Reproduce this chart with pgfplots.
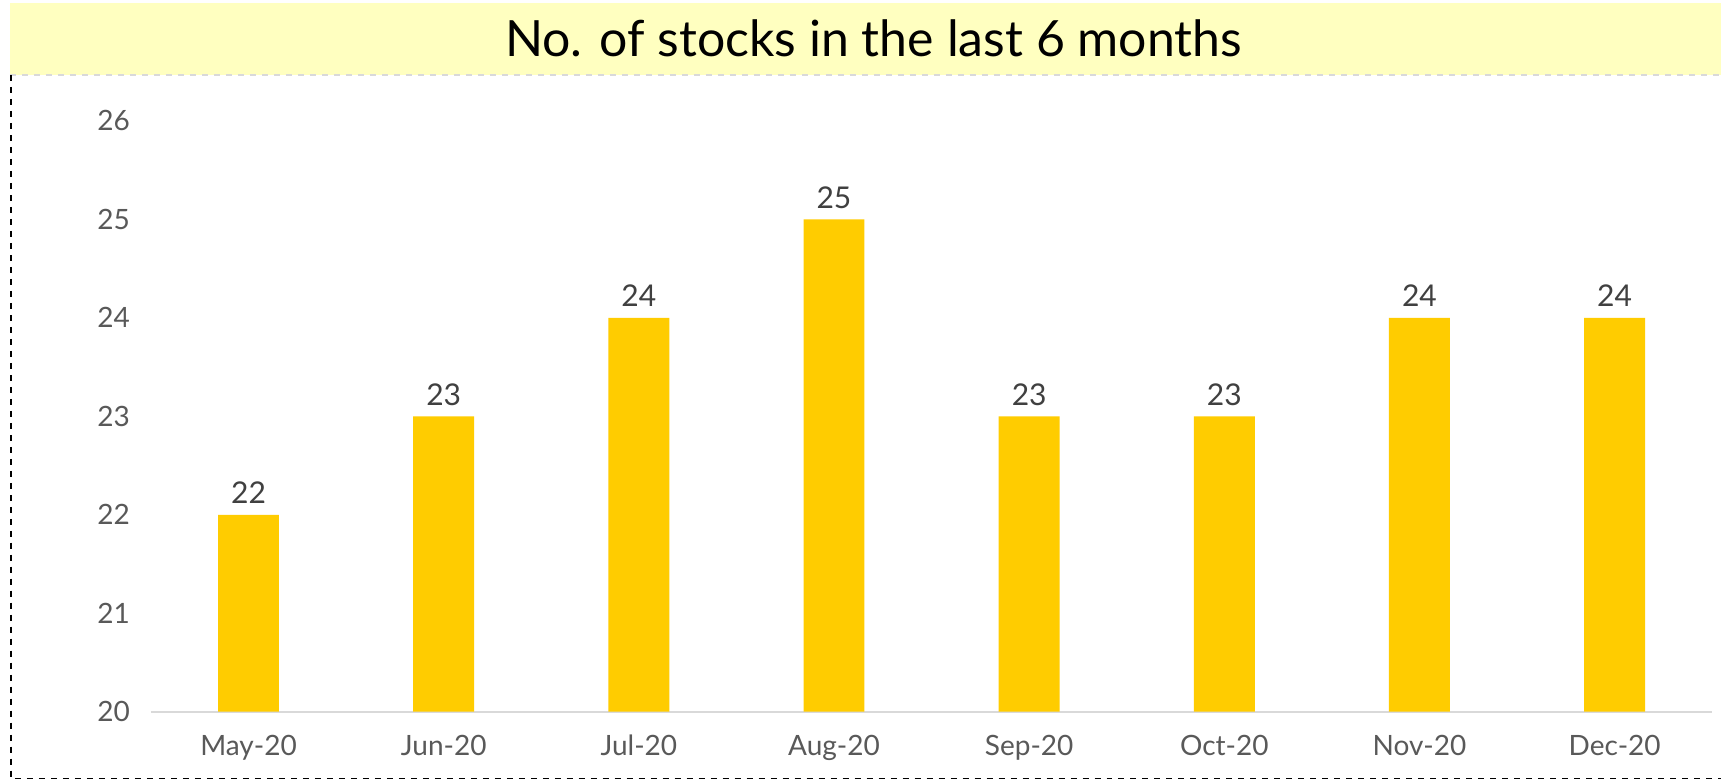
\documentclass[border=0pt]{standalone}
\usepackage{pgfplots}
\pgfplotsset{compat=1.18}
\usepackage{fontspec}
\setmainfont{Lato}
\definecolor{barc}{HTML}{FFCC00}
\definecolor{band}{HTML}{FFFFC0}
\definecolor{tickc}{HTML}{595959}
\definecolor{labc}{HTML}{404040}
\definecolor{axc}{HTML}{D9D9D9}
\begin{document}
\begin{tikzpicture}
% page frame, 1px = 0.5pt
\fill[white] (0,0) rectangle (861pt,-390pt);
\fill[band] (5pt,-1.5pt) rectangle (861pt,-37.5pt);
\draw[axc, dashed, line width=0.8pt] (5pt,-37.5pt) -- (861pt,-37.5pt);
\draw[black, dashed, line width=0.6pt] (5.5pt,-37.5pt) -- (5.5pt,-389.5pt) -- (861pt,-389.5pt);
\node[font=\fontsize{25}{28}\selectfont, text=black] at (437pt,-19pt) {No. of stocks in the last 6 months};
\begin{axis}[
  at={(75.5pt,-356pt)}, anchor=south west,
  scale only axis, width=781pt, height=295.5pt,
  xmin=-0.5, xmax=7.5, ymin=20, ymax=26,
  ytick={20,21,22,23,24,25,26},
  xtick=data,
  xticklabels={May-20,Jun-20,Jul-20,Aug-20,Sep-20,Oct-20,Nov-20,Dec-20},
  axis x line*=bottom, axis y line*=left,
  x axis line style={draw=axc, line width=1pt, -},
  y axis line style={draw=none},
  major tick style={draw=none},
  tick label style={font=\fontsize{14}{16}\selectfont, text=tickc},
  /pgf/number format/assume math mode=true,
  yticklabel style={xshift=-7pt},
  xticklabel style={yshift=-4pt},
  ybar, bar width=30.5pt,
  nodes near coords,
  every node near coord/.append style={font=\fontsize{15}{17}\selectfont, text=labc, yshift=2pt},
  clip=false,
]
\addplot[fill=barc, draw=none] coordinates {(0,22) (1,23) (2,24) (3,25) (4,23) (5,23) (6,24) (7,24)};
\end{axis}
\end{tikzpicture}
\end{document}
